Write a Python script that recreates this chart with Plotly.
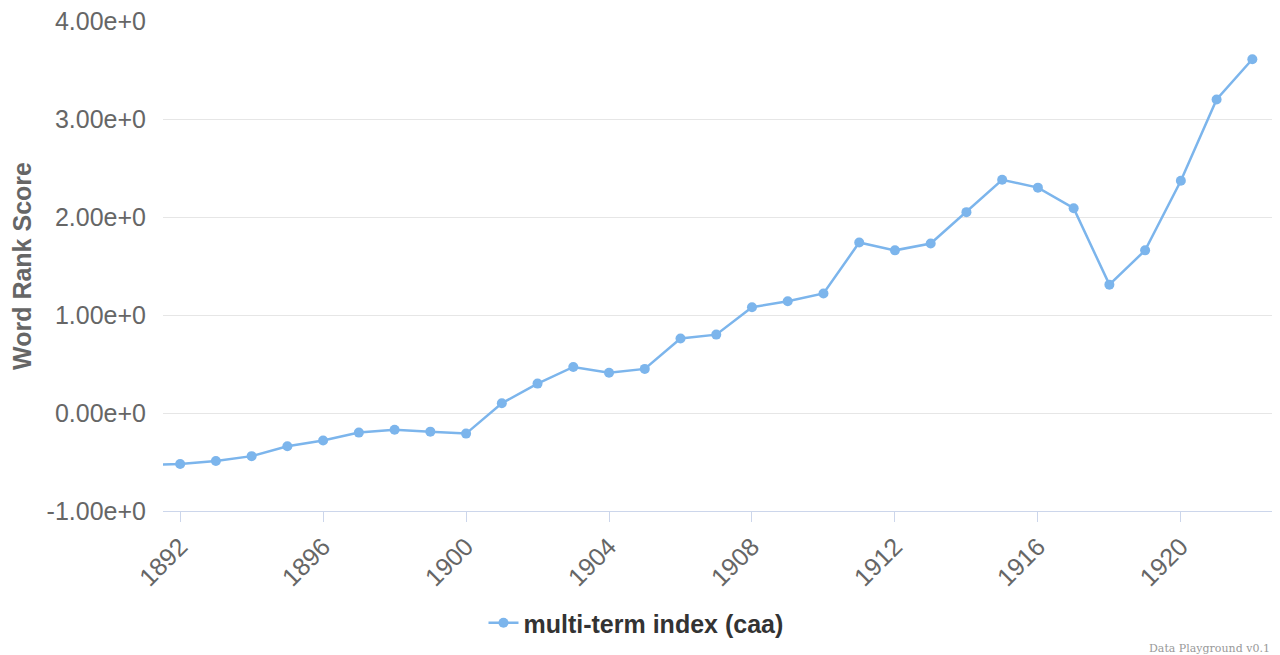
import plotly.graph_objects as go

# Data
years = list(range(1891, 1923))
scores = [
    -0.53, -0.52, -0.49, -0.44, -0.34, -0.28, -0.20, -0.17, -0.19, -0.21,
    0.10, 0.30, 0.47, 0.41, 0.45, 0.76, 0.80, 1.08, 1.14, 1.22,
    1.74, 1.66, 1.73, 2.05, 2.38, 2.30, 2.09, 1.31, 1.66, 2.37,
    3.20, 3.61,
]
x_ticks = list(range(1892, 1921, 4))
y_ticks = [-1, 0, 1, 2, 3, 4]
y_labels = [f"{v:.2f}e+0" for v in y_ticks]

FONT = "Liberation Sans, Arial, sans-serif"
LINE_COLOR = "#7cb5ec"

fig = go.Figure()
fig.add_trace(go.Scatter(
    x=years, y=scores, mode="lines+markers",
    name="multi-term index (caa)",
    line=dict(color=LINE_COLOR, width=2.5),
    marker=dict(color=LINE_COLOR, size=10),
))

# the page body adds an 8px offset, so the figure is sized/margined to suit
fig.update_layout(
    width=1272, height=647,
    margin=dict(l=155, r=8, t=13, b=144, autoexpand=False),
    plot_bgcolor="white", paper_bgcolor="white",
    font=dict(family=FONT, color="#666666", size=25),
    showlegend=True,
    legend=dict(
        orientation="h", x=0.4265, xanchor="center", y=-0.2286, yanchor="middle",
        font=dict(family=FONT, size=25, color="#333333", weight="bold"),
    ),
    xaxis=dict(
        range=[1891.52, 1922.55],
        tickvals=x_ticks, ticktext=[str(v) for v in x_ticks],
        tickangle=-45, showgrid=False, zeroline=False,
        showline=True, linecolor="#ccd6eb", linewidth=1,
        ticks="outside", ticklen=10, tickcolor="#ccd6eb",
        tickfont=dict(size=25, color="#666666"),
        automargin=False,
    ),
    yaxis=dict(
        range=[-1, 4.0005], tickvals=y_ticks, ticktext=y_labels,
        showgrid=True, gridcolor="#e6e6e6", zeroline=False,
        ticks="", ticklabelstandoff=16, ticklabeloverflow="allow",
        tickfont=dict(size=25, color="#666666"),
        title=dict(text="Word Rank Score", standoff=14,
                   font=dict(size=25, color="#666666", weight="bold")),
        automargin=False,
    ),
)

fig.add_annotation(
    text="Data Playground v0.1", xref="paper", yref="paper",
    x=1.0, y=-0.28, xanchor="right", yanchor="middle", showarrow=False,
    font=dict(family="DejaVu Serif, serif", size=11, color="#999999"),
)

fig.write_html("out.html")
